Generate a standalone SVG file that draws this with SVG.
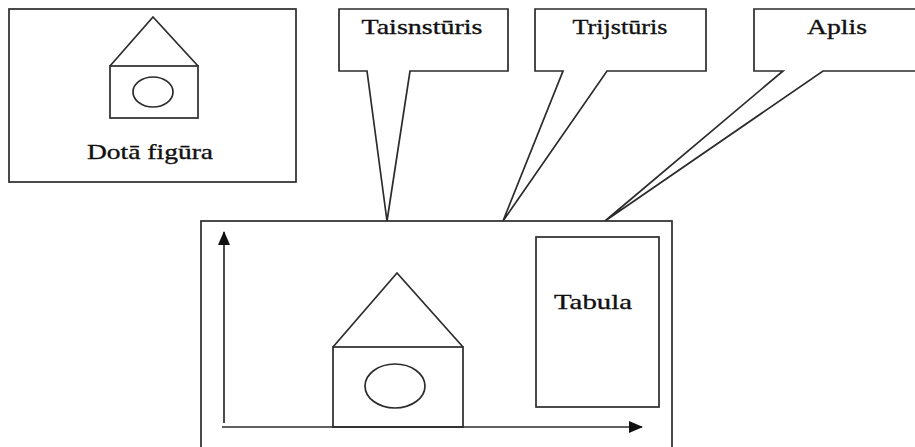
<svg xmlns="http://www.w3.org/2000/svg" width="915" height="447" viewBox="0 0 915 447">
  <style>
    .box { fill: #ffffff; stroke: #2b2b2b; stroke-width: 1.7; }
    .line { fill: none; stroke: #2b2b2b; stroke-width: 1.7; }
    .lbl { font-family: "Liberation Serif", "Times New Roman", serif; font-size: 22px; fill: #111111; stroke: #111111; stroke-width: 0.35; }
  </style>
  <defs>
    <marker id="arrow" viewBox="0 0 14 12" refX="13" refY="6" markerWidth="14" markerHeight="12" markerUnits="userSpaceOnUse" orient="auto">
      <path d="M0,0 L14,6 L0,12 Z" fill="#111111"/>
    </marker>
  </defs>
  <rect width="915" height="447" fill="#ffffff"/>

  <!-- given figure -->
  <g id="dota-figura">
    <rect class="box" x="9" y="9" width="287" height="173"/>
    <path class="line" d="M110,66 L153,17 L198,66"/>
    <rect class="line" x="110" y="66" width="88" height="52"/>
    <ellipse class="line" cx="153" cy="92" rx="20" ry="15"/>
    <text class="lbl" x="150" y="159" text-anchor="middle" textLength="126" lengthAdjust="spacingAndGlyphs">Dotā figūra</text>
  </g>

  <!-- callouts -->
  <g id="taisnsturis">
    <path class="box" d="M339,9 H508 V71 H410 L387,221 L367,71 H339 Z"/>
    <text class="lbl" x="422" y="34" text-anchor="middle" textLength="121" lengthAdjust="spacingAndGlyphs">Taisnstūris</text>
  </g>
  <g id="trijsturis">
    <path class="box" d="M535,9 H706 V71 H607 L503,221 L563,71 H535 Z"/>
    <text class="lbl" x="620" y="34" text-anchor="middle" textLength="95" lengthAdjust="spacingAndGlyphs">Trijstūris</text>
  </g>
  <g id="aplis">
    <path class="box" d="M754,9 H925 V71 H823 L605,221 L783,71 H754 Z"/>
    <text class="lbl" x="837" y="34" text-anchor="middle" textLength="60" lengthAdjust="spacingAndGlyphs">Aplis</text>
  </g>

  <!-- workspace -->
  <g id="darba-laukums">
    <rect class="box" x="201" y="221" width="471" height="232"/>
  </g>
  <g id="maja">
    <path class="line" d="M333,347 L397,273 L463,347"/>
    <rect class="line" x="333" y="347" width="130" height="80"/>
    <ellipse class="line" cx="395" cy="386" rx="30" ry="22"/>
  </g>
  <g id="tabula">
    <rect class="box" x="536" y="237" width="123" height="170"/>
    <text class="lbl" x="593" y="309" text-anchor="middle" textLength="78" lengthAdjust="spacingAndGlyphs">Tabula</text>
  </g>

  <!-- axes -->
  <g id="connectors">
    <line class="line" x1="224" y1="423" x2="224" y2="232" marker-end="url(#arrow)"/>
    <line class="line" x1="222" y1="427" x2="642" y2="427" marker-end="url(#arrow)"/>
  </g>
</svg>
